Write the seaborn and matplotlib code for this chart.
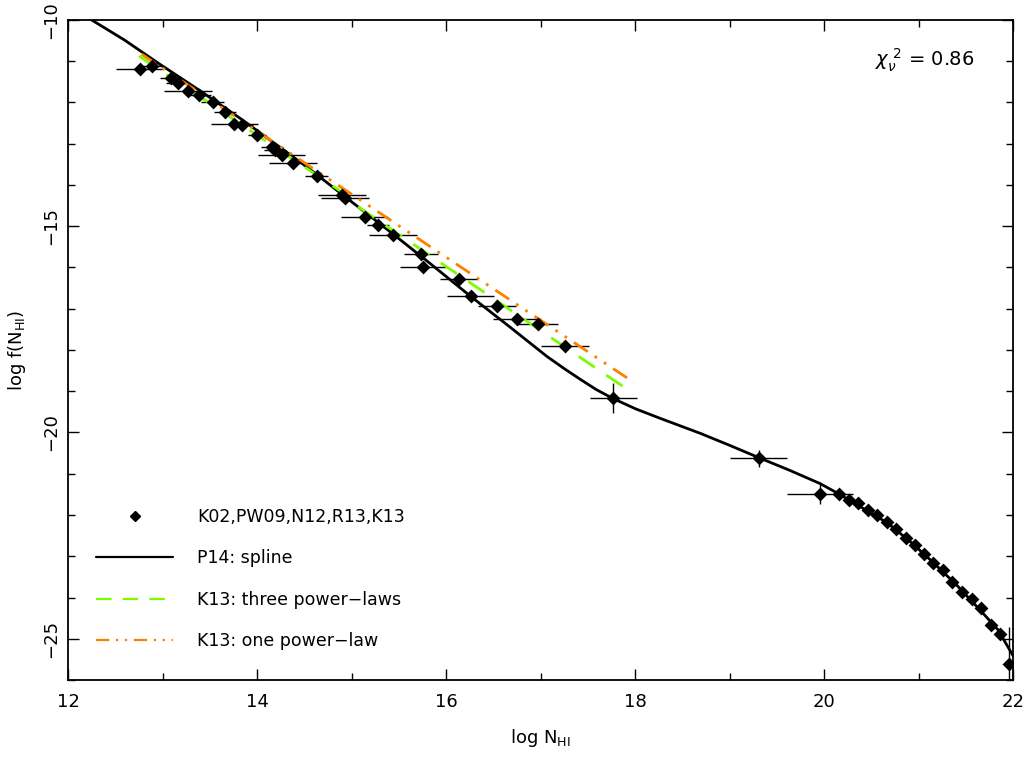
import numpy as np
import pandas as pd
import matplotlib
matplotlib.use("Agg")
import matplotlib.pyplot as plt
import seaborn as sns
from matplotlib.lines import Line2D
from matplotlib.ticker import MultipleLocator

# ---- observed data points (K02, PW09, N12, R13, K13) ----
obs_logN = [12.76, 12.89, 13.09, 13.16, 13.27, 13.39, 13.53, 13.66, 13.76, 13.84,
            14.00, 14.16, 14.19, 14.26, 14.38, 14.63, 14.90, 14.93, 15.14, 15.28,
            15.44, 15.74, 15.76, 16.14, 16.26, 16.54, 16.75, 16.97, 17.26, 17.77,
            19.31, 19.96,
            20.16, 20.26, 20.36, 20.47, 20.56, 20.67, 20.76, 20.87, 20.96, 21.06,
            21.15, 21.26, 21.35, 21.46, 21.57, 21.66, 21.77, 21.86, 21.96]
obs_logf = [-11.19, -11.12, -11.41, -11.53, -11.72, -11.82, -11.99, -12.23, -12.52, -12.55,
            -12.79, -13.08, -13.16, -13.28, -13.47, -13.79, -14.25, -14.32, -14.78, -14.98,
            -15.22, -15.68, -16.00, -16.29, -16.70, -16.94, -17.26, -17.38, -17.91, -19.17,
            -20.63, -21.48,
            -21.50, -21.63, -21.72, -21.87, -22.01, -22.18, -22.35, -22.55, -22.72, -22.94,
            -23.16, -23.33, -23.62, -23.86, -24.03, -24.25, -24.66, -24.88, -25.61]
obs_xerr = [0.25, 0.12, 0.12, 0.12, 0.25, 0.12, 0.12, 0.12, 0.25, 0.12,
            0.10, 0.12, 0.12, 0.25, 0.25, 0.12, 0.25, 0.25, 0.25, 0.12,
            0.25, 0.18, 0.25, 0.20, 0.25, 0.20, 0.25, 0.22, 0.25, 0.25,
            0.30, 0.35,
            0, 0, 0, 0, 0, 0, 0, 0, 0, 0,
            0, 0, 0, 0, 0, 0, 0, 0, 0]
obs_yerr = [0.05] * 27 + [0.10, 0.15, 0.36, 0.20, 0.25] + [0.05] * 18 + [0.90]

# ---- P14 spline ----
spline_logN = [12.25, 12.60, 12.97, 13.40, 13.85, 14.24, 14.56, 14.98, 15.44, 15.83,
               16.25, 16.68, 17.07, 17.25, 17.42, 17.59, 17.77, 18.01, 18.27, 18.69,
               19.00, 19.31, 19.64, 19.96, 20.15, 20.40, 20.67, 20.91, 21.15, 21.40,
               21.65, 21.84, 22.00]
spline_logf = [-10.00, -10.49, -11.07, -11.72, -12.43, -13.08, -13.62, -14.37, -15.19, -15.90,
               -16.68, -17.45, -18.16, -18.45, -18.71, -18.96, -19.18, -19.43, -19.66, -20.02,
               -20.31, -20.61, -20.92, -21.24, -21.48, -21.82, -22.19, -22.64, -23.14, -23.69,
               -24.30, -24.78, -25.41]

# ---- K13 fits ----
three_pl_logN = [12.75, 14.95, 15.00, 17.98]
three_pl_logf = [-10.87, -14.25, -14.42, -19.05]
one_pl_logN = [12.78, 17.99]
one_pl_logf = [-10.83, -18.79]

labels = ["K02,PW09,N12,R13,K13", "P14: spline", "K13: three power\u2212laws", "K13: one power\u2212law"]
green = "#7CFC00"
orange = "#FF8000"

sns.set_style("ticks", {"axes.edgecolor": "black", "text.color": "black",
                        "xtick.color": "black", "ytick.color": "black",
                        "axes.labelcolor": "black"})
plt.rcParams["font.family"] = ["DejaVu Sans"]
plt.rcParams["mathtext.fontset"] = "dejavusans"

fig = plt.figure(figsize=(10.32, 7.62), dpi=100)
ax = fig.add_axes([0.0659, 0.1076, 0.9157, 0.8662])

obs = pd.DataFrame({"logN": obs_logN, "logf": obs_logf})
spl = pd.DataFrame({"logN": spline_logN, "logf": spline_logf})
tpl = pd.DataFrame({"logN": three_pl_logN, "logf": three_pl_logf})
opl = pd.DataFrame({"logN": one_pl_logN, "logf": one_pl_logf})

ax.errorbar(obs_logN, obs_logf, xerr=obs_xerr, yerr=obs_yerr, fmt="none",
            ecolor="black", elinewidth=1.0, capsize=0, zorder=2)

sns.lineplot(data=spl, x="logN", y="logf", color="black", lw=2.0, estimator=None,
             sort=False, ax=ax, zorder=3)
ax.lines[-1].set_solid_joinstyle("round")
sns.lineplot(data=tpl, x="logN", y="logf", color=green, lw=2.0, estimator=None,
             sort=False, ax=ax, zorder=4)
ax.lines[-1].set_linestyle((0, (7, 5)))
sns.lineplot(data=opl, x="logN", y="logf", color=orange, lw=2.0, estimator=None,
             sort=False, ax=ax, zorder=4)
ax.lines[-1].set_linestyle((0, (6, 3, 1, 3, 1, 3)))

sns.scatterplot(data=obs, x="logN", y="logf", marker="D", s=50, color="black",
                edgecolor="black", linewidth=0, ax=ax, zorder=5)

ax.set_xlim(12, 22)
ax.set_ylim(-26, -10)
ax.xaxis.set_major_locator(MultipleLocator(2))
ax.xaxis.set_minor_locator(MultipleLocator(1))
ax.yaxis.set_major_locator(MultipleLocator(5))
ax.yaxis.set_minor_locator(MultipleLocator(1))
ax.tick_params(which="both", direction="in", top=True, right=True, width=1.0, labelsize=13)
ax.tick_params(which="major", length=8)
ax.tick_params(which="minor", length=5)
ax.tick_params(axis="x", pad=9)
ax.tick_params(axis="y", labelrotation=90, pad=6)
for lab in ax.get_yticklabels():
    lab.set_va("center")
for sp in ax.spines.values():
    sp.set_linewidth(1.3)

ax.set_xlabel(r"log N$_{\rm HI}$", fontsize=13, labelpad=12)
ax.set_ylabel(r"log f(N$_{\rm HI}$)", fontsize=13, labelpad=10)

ax.text(0.907, 0.939, r"$\chi_{\nu}^{\ 2}$ = 0.86", transform=ax.transAxes,
        ha="center", va="center", fontsize=14)

handles = [
    Line2D([], [], marker="D", ms=5, color="black", linestyle="none"),
    Line2D([], [], color="black", lw=1.6),
    Line2D([], [], color=green, lw=1.6, linestyle=(0, (7, 5))),
    Line2D([], [], color=orange, lw=1.6, linestyle=(0, (6, 3, 1, 3, 1, 3))),
]
ax.legend(handles, labels, loc="lower left", bbox_to_anchor=(0.03, 0.045),
          frameon=False, fontsize=12.5, handlelength=4.4, handletextpad=1.4,
          labelspacing=1.35, borderaxespad=0, borderpad=0)

fig.savefig("out.png", dpi=100)
